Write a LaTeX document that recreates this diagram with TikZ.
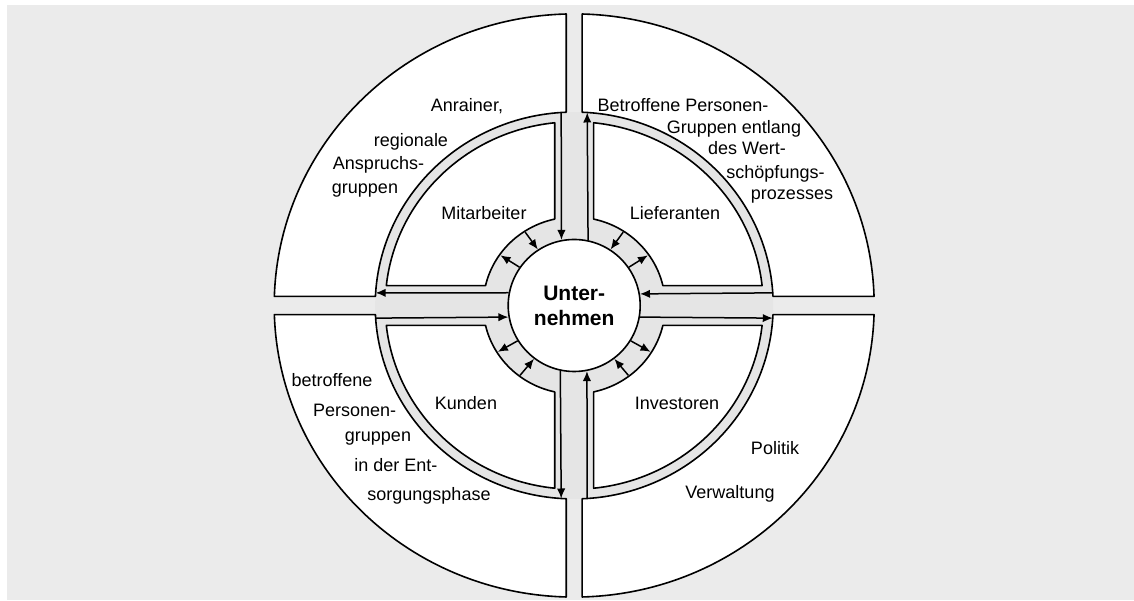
\documentclass[tikz,border=0pt]{standalone}
\usepackage{fontspec}
\setmainfont{Liberation Sans}
\usetikzlibrary{arrows.meta}
\definecolor{bggray}{HTML}{EBEBEB}
\definecolor{lanegray}{HTML}{E5E5E5}

\begin{document}
\begin{tikzpicture}[x=0.5pt,y=0.486pt,line width=0.8pt,
	>={Latex[length=5pt,width=4.2pt]},
	field/.style={draw,fill=white,line join=round},
	flow/.style={->,line width=0.75pt},
	lbl/.style={font=\fontsize{9}{11}\selectfont,inner sep=0pt,text height=1.5ex,text depth=.25ex}]
	\useasboundingbox (-574.2,314.3) rectangle (559.8,-303);
	\fill[white] (-574.2,314.3) rectangle (559.8,-303);
	\fill[bggray] (-567.2,309.2) rectangle (559.8,-303);
	\fill[lanegray] (0,0) circle (199);

	% four outer and four inner fields
	\foreach \sx/\sy in {1/1,-1/1,-1/-1,1/-1}{
		\begin{scope}[xscale=\sx,yscale=\sy]
			\draw[field] ({90-asin(8/300)}:300) arc[start angle={90-asin(8/300)},end angle={asin(9.4/300)},radius=300]
				-- ({asin(9.4/199)}:199) arc[start angle={asin(9.4/199)},end angle={90-asin(8/199)},radius=199] -- cycle;
			\draw[field] ({90-asin(19.5/189)}:189) arc[start angle={90-asin(19.5/189)},end angle={asin(20.5/189)},radius=189]
				-- ({asin(20.5/91)}:91) arc[start angle={asin(20.5/91)},end angle={90-asin(19.5/91)},radius=91] -- cycle;
		\end{scope}
	}

	\node[draw,fill=white,circle,minimum size=66pt,inner sep=0pt,align=center,
		font=\fontsize{10.5}{12.5}\selectfont\bfseries] (unternehmen) at (0,0) {Unter-\\nehmen};

	% long arrows in the lanes
	\foreach \a/\b [count=\i] in {93.746/101.2,183.746/190.9,3.746/10.9,273.746/281.2}
		\draw[flow] (\a:199) coordinate (in\i) -- (unternehmen.\b);
	\foreach \a/\b [count=\i] in {86.254/78.8,176.254/169.1,-3.746/-10.9,266.254/258.8}
		\draw[flow] (unternehmen.\b) -- (\a:199) coordinate (out\i);

	% short arrows in the ring
	\foreach \a [count=\i] in {57,123,233,307}
		\draw[flow] (\a:90) coordinate (rin\i) -- (unternehmen.\a);
	\foreach \a [count=\i] in {35,145,212,328}
		\draw[flow] (unternehmen.\a) -- (\a:90) coordinate (rout\i);

	\node[lbl] (mitarbeiter) at (-90.2,95.2) {Mitarbeiter};
	\node[lbl] (lieferanten) at (100.8,95.2) {Lieferanten};
	\node[lbl] (kunden) at (-108.2,-100.3) {Kunden};
	\node[lbl] (investoren) at (102.8,-100.3) {Investoren};

	\node[lbl] (anrainer) at (-107.2,206.3) {Anrainer,};
	\node[lbl] (regional) at (-163.2,170.3) {regionale};
	\node[lbl] (anspruch) at (-195.7,146.6) {Anspruchs-};
	\node[lbl] (gruppenA) at (-209.2,121.9) {gruppen};

	\node[lbl] (betroffen) at (108.8,206.3) {Betroffene Personen-};
	\node[lbl] (entlang) at (159.8,183.6) {Gruppen entlang};
	\node[lbl] (wert) at (172.8,162.0) {des Wert-};
	\node[lbl] (schoepf) at (201.3,137.3) {schöpfungs-};
	\node[lbl] (prozess) at (217.8,115.7) {prozesses};

	\node[lbl] (betroffenB) at (-242.2,-76.6) {betroffene};
	\node[lbl] (personen) at (-219.5,-107.5) {Personen-};
	\node[lbl] (gruppenB) at (-196.2,-133.2) {gruppen};
	\node[lbl] (entsorg) at (-178.2,-164.1) {in der Ent-};
	\node[lbl] (phase) at (-145.2,-193.9) {sorgungsphase};

	\node[lbl] (politik) at (200.8,-146.6) {Politik};
	\node[lbl] (verwaltung) at (155.8,-191.9) {Verwaltung};
\end{tikzpicture}
\end{document}
